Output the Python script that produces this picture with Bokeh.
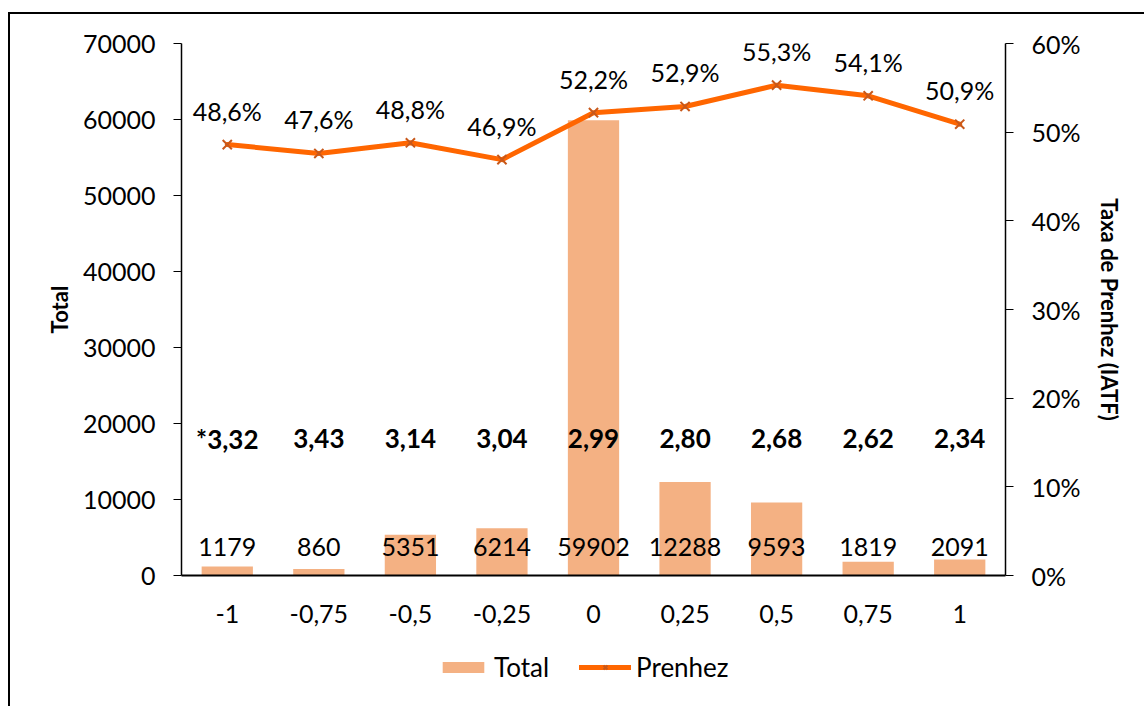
from bokeh.plotting import figure
from bokeh.layouts import column
from bokeh.models import (Range1d, LinearAxis, FixedTicker, NumeralTickFormatter,
                          Legend, LegendItem, ColumnDataSource, FactorRange)
from bokeh.core.properties import value
from bokeh.embed import file_html
from bokeh.resources import INLINE

# ---------------- data ----------------
categories = ["-1", "-0,75", "-0,5", "-0,25", "0", "0,25", "0,5", "0,75", "1"]
total = [1179, 860, 5351, 6214, 59902, 12288, 9593, 1819, 2091]
total_labels = ["1179", "860", "5351", "6214", "59902", "12288", "9593", "1819", "2091"]
prenhez = [0.486, 0.476, 0.488, 0.469, 0.522, 0.529, 0.553, 0.541, 0.509]
prenhez_labels = ["48,6%", "47,6%", "48,8%", "46,9%", "52,2%", "52,9%", "55,3%", "54,1%", "50,9%"]
ecc_labels = ["*3,32", "3,43", "3,14", "3,04", "2,99", "2,80", "2,68", "2,62", "2,34"]
left_ticks = [0, 10000, 20000, 30000, 40000, 50000, 60000, 70000]
right_ticks = [0.0, 0.1, 0.2, 0.3, 0.4, 0.5, 0.6]
y_left_label = "Total"
y_right_label = "Taxa de Prenhez (IATF)"
legend_labels = ["Total", "Prenhez"]

# ---------------- styling ----------------
FONT = "Lato"
FS = "25px"
FSB = "26px"
BAR_COLOR = "#F4B183"
LINE_COLOR = "#FF6600"
MARK_COLOR = "#C8581A"

W = 1134          # canvas width (page x 10 .. 1144)
HM = 626          # main canvas height (page y 14 .. 640)
HL = 66           # legend strip height (page y 640 .. 706)

src = ColumnDataSource(dict(cat=categories, total=total, total_lbl=total_labels,
                            prenhez=prenhez, prenhez_lbl=prenhez_labels,
                            ecc=ecc_labels,
                            ecc_y=[18000] * len(categories),
                            lbl_y=[3700] * len(categories)))

xr = FactorRange(*categories)
p = figure(x_range=xr, y_range=Range1d(0, 70000),
           width=W, height=HM, output_backend="svg", toolbar_location=None,
           min_border_left=171, min_border_right=W - 995,
           min_border_top=29, min_border_bottom=HM - 561)
p.extra_y_ranges = {"y2": Range1d(0, 0.6)}

p.outline_line_color = None
p.xgrid.grid_line_color = None
p.ygrid.grid_line_color = None
p.background_fill_color = "white"
p.border_fill_color = "white"

bars = p.vbar(x="cat", top="total", width=0.56, source=src,
              fill_color=BAR_COLOR, line_color=None)
line = p.line(x="cat", y="prenhez", source=src, y_range_name="y2",
              line_color=LINE_COLOR, line_width=5, line_join="round", line_cap="round")
marks = p.scatter(x="cat", y="prenhez", source=src, y_range_name="y2",
                  marker="x", size=13, line_color=MARK_COLOR, line_width=2)

# labels
p.text(x="cat", y="prenhez", text="prenhez_lbl", source=src, y_range_name="y2",
       y_offset=-34, text_align="center", text_baseline="middle",
       text_font=value(FONT), text_font_size=FS, text_color="black")
p.text(x="cat", y="lbl_y", text="total_lbl", source=src,
       text_align="center", text_baseline="middle",
       text_font=value(FONT), text_font_size=FS, text_color="black")
p.text(x="cat", y="ecc_y", text="ecc", source=src,
       text_align="center", text_baseline="middle",
       text_font=value(FONT), text_font_size=FSB, text_font_style="bold",
       text_color="black")

# axes
ya = p.yaxis[0]
ya.ticker = FixedTicker(ticks=left_ticks)
ya.formatter = NumeralTickFormatter(format="0")
ya.axis_label = y_left_label
ya.axis_label_text_font = FONT
ya.axis_label_text_font_size = "22px"
ya.axis_label_text_font_style = "bold"
ya.axis_label_text_color = "black"
ya.axis_label_standoff = 7
ya.major_label_text_font = FONT
ya.major_label_text_font_size = FS
ya.major_label_text_color = "black"
ya.major_label_standoff = 18
ya.major_tick_out = 8
ya.major_tick_in = 0
ya.minor_tick_line_color = None
ya.axis_line_width = 1.5
ya.axis_line_color = "black"
ya.major_tick_line_color = "black"

y2 = LinearAxis(y_range_name="y2")
y2.ticker = FixedTicker(ticks=right_ticks)
y2.formatter = NumeralTickFormatter(format="0%")
y2.axis_label = y_right_label
y2.axis_label_text_font = FONT
y2.axis_label_text_font_size = "22px"
y2.axis_label_text_font_style = "bold"
y2.axis_label_text_color = "black"
y2.axis_label_standoff = 12
y2.major_label_text_font = FONT
y2.major_label_text_font_size = FS
y2.major_label_text_color = "black"
y2.major_label_standoff = 18
y2.major_tick_out = 8
y2.major_tick_in = 0
y2.minor_tick_line_color = None
y2.axis_line_width = 1.5
y2.axis_line_color = "black"
y2.major_tick_line_color = "black"
p.add_layout(y2, "right")

xa = p.xaxis[0]
xa.major_label_text_font = FONT
xa.major_label_text_font_size = FS
xa.major_label_text_color = "black"
xa.major_tick_line_color = None
xa.major_tick_out = 0
xa.major_tick_in = 0
xa.major_label_standoff = 29
xa.axis_line_width = 2
xa.axis_line_color = "black"

# ---------------- legend strip ----------------
# same series, kept outside the strip's visible y-range so only the legend swatches show
pl = figure(width=W, height=HL, output_backend="svg", toolbar_location=None,
            x_range=xr, y_range=Range1d(-3e5, -2e5),
            x_axis_location=None, y_axis_location=None,
            min_border=0)
pl.outline_line_color = None
pl.xgrid.grid_line_color = None
pl.ygrid.grid_line_color = None
pl.background_fill_color = "white"
pl.border_fill_color = "white"
lb = pl.vbar(x="cat", top="total", width=0.0, source=src,
             fill_color=BAR_COLOR, line_color=None)
ll = pl.line(x="cat", y="prenhez", source=src, line_color=LINE_COLOR, line_width=5,
             line_cap="round")
lm = pl.scatter(x="cat", y="prenhez", source=src, marker="x", size=15,
                line_color=MARK_COLOR, line_width=2)
legend = Legend(items=[LegendItem(label=legend_labels[0], renderers=[lb]),
                       LegendItem(label=legend_labels[1], renderers=[ll, lm])],
                orientation="horizontal", location=(256, 23),
                label_text_font=FONT, label_text_font_size="26px",
                label_text_color="black",
                glyph_width=52, glyph_height=14, spacing=30, label_standoff=5,
                border_line_color=None, background_fill_alpha=0,
                margin=0, padding=5)
pl.add_layout(legend, "center")

layout = column(p, pl, spacing=0,
                styles={"border-left": "2px solid #000", "border-top": "2px solid #000",
                        "margin-left": "8px", "margin-top": "12px"})

open("out.html", "w").write(file_html(layout, INLINE))
